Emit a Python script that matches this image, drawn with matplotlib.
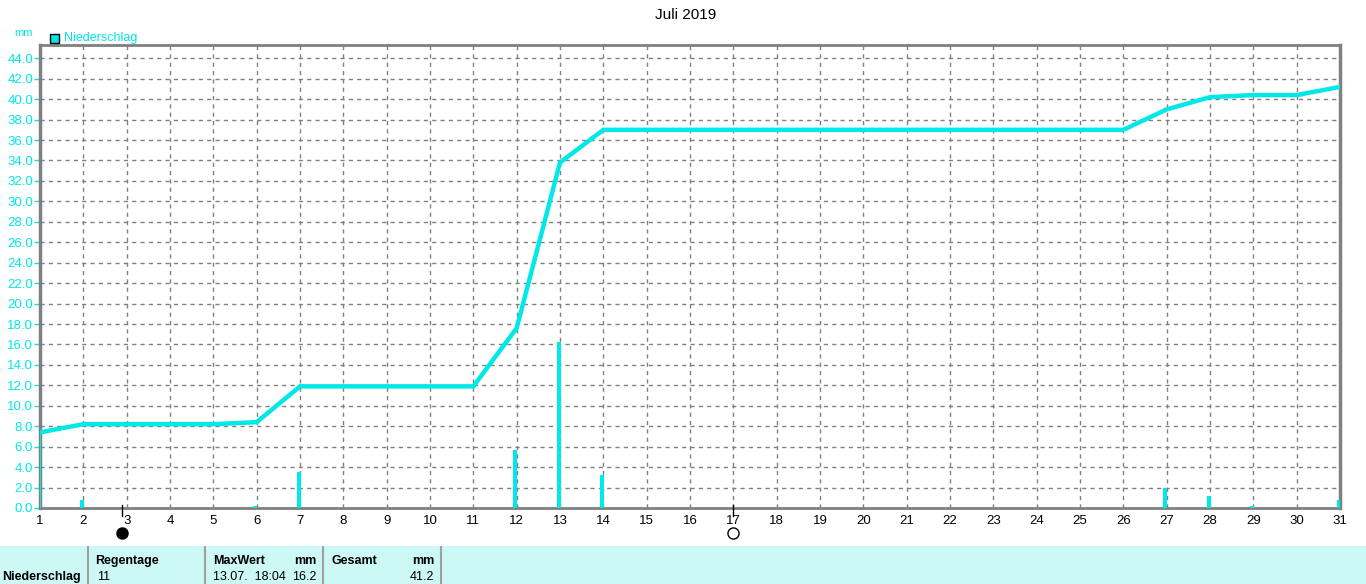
import matplotlib.pyplot as plt
import numpy as np
from matplotlib.patches import Rectangle

# daily rain, July 2019 (mm)
days = np.arange(1, 32)
rain = [7.4, 0.8, 0, 0, 0, 0.2, 3.5, 0, 0, 0,
        0, 5.7, 16.2, 3.2, 0, 0, 0, 0, 0, 0,
        0, 0, 0, 0, 0, 0, 2.0, 1.2, 0.2, 0, 0.8]
total = np.cumsum(rain)

moon_days = [2.9, 17.0]
moon_filled = [True, False]

yticks = np.arange(0, 45, 2)

summary_head = ["Regentage", "MaxWert", "Gesamt"]
summary_vals = ["11", "13.07.  18:04", "16.2", "41.2"]

cyan = '#00e8e8'
grid_c = '#808080'

plt.rcParams['font.family'] = ['Liberation Sans', 'DejaVu Sans']

fig = plt.figure(figsize=(13.66, 5.84), dpi=100)
ax = fig.add_axes([40/1366, 76/584, 1300/1366, 463/584])

ax.bar(days - 0.03, rain, width=0.09, color=cyan, zorder=3)
ax.plot(days, total, color=cyan, lw=3.2, zorder=4, solid_joinstyle='miter')

ax.set_xlim(1, 31)
ax.set_ylim(0, 45.3)
ax.set_xticks(days)
ax.set_xticklabels([str(d) for d in days], fontsize=9.5)
ax.set_yticks(yticks)
ax.set_yticklabels(["%.1f" % v for v in yticks], fontsize=9.5, color=cyan)
ax.tick_params(axis='x', length=0, pad=5)
ax.tick_params(axis='y', length=4, width=1, color=cyan, pad=1)
ax.grid(True, color=grid_c, linestyle=(0, (3, 3)), lw=1, zorder=0)
for s in ax.spines.values():
    s.set_color(grid_c)
ax.spines['left'].set_linewidth(2.5)
ax.spines['right'].set_linewidth(2.5)
ax.spines['top'].set_linewidth(2)
ax.spines['bottom'].set_linewidth(2)

# moon phases below axis
for d, filled in zip(moon_days, moon_filled):
    ax.plot([d, d], [0.3, -0.8], color='black', lw=1, clip_on=False, zorder=5)
    ax.plot([d], [-2.45], marker='o', ms=8, mec='black', mew=1,
            mfc='black' if filled else 'white', clip_on=False, zorder=5)

fig.text(686/1366, 1 - 15/584, "Juli 2019", ha='center', va='center', fontsize=11)
fig.text(14/1366, 1 - 33/584, "mm", ha='left', va='center', fontsize=8, color=cyan)
fig.patches.append(Rectangle((50/1366, 1 - 43/584), 9/1366, 9/584, transform=fig.transFigure,
                             facecolor=cyan, edgecolor='black', lw=1))
fig.text(64/1366, 1 - 38/584, "Niederschlag", ha='left', va='center', fontsize=9, color=cyan)

# summary table band
tb = fig.add_axes([0, 0, 1, 38/584])
tb.set_xlim(0, 1366)
tb.set_ylim(584, 546)
tb.axis('off')
tb.add_patch(Rectangle((0, 546), 1366, 38, facecolor='#ccf8f5', edgecolor='none'))
for xs in [88, 205, 323, 441]:
    tb.plot([xs, xs], [546, 584], color='#a0a0a0', lw=1.5)
fs = 9
tb.text(2, 577, "Niederschlag", fontsize=fs, fontweight='bold', va='center')
tb.text(95, 561, summary_head[0], fontsize=fs, fontweight='bold', va='center')
tb.text(213, 561, summary_head[1], fontsize=fs, fontweight='bold', va='center')
tb.text(316, 561, "mm", fontsize=fs, fontweight='bold', va='center', ha='right')
tb.text(331, 561, summary_head[2], fontsize=fs, fontweight='bold', va='center')
tb.text(434, 561, "mm", fontsize=fs, fontweight='bold', va='center', ha='right')
tb.text(97, 577, summary_vals[0], fontsize=fs, va='center')
tb.text(213, 577, summary_vals[1], fontsize=fs, va='center')
tb.text(316, 577, summary_vals[2], fontsize=fs, va='center', ha='right')
tb.text(434, 577, summary_vals[3], fontsize=fs, va='center', ha='right')

fig.savefig('out.png', dpi=100)
